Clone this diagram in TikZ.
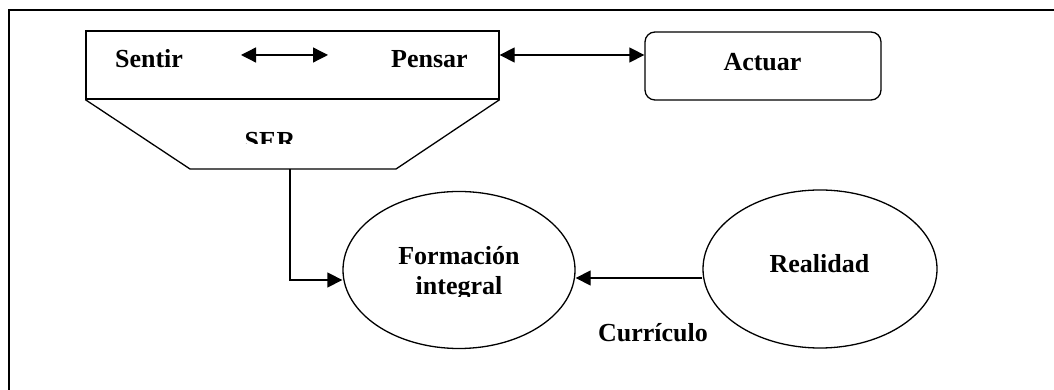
\documentclass[tikz,border=0pt]{standalone}
\usepackage{fontspec}
\setmainfont{Liberation Serif}
\usetikzlibrary{arrows.meta,shapes.geometric}
\tikzset{
  txt/.style={font=\fontsize{26}{30}\selectfont\bfseries, inner sep=0pt},
  shp/.style={draw, line width=1.3pt},
  conn/.style={line width=1.3pt, -{Triangle[length=15pt,width=15pt]}},
  dconn/.style={line width=1.3pt, {Triangle[length=15pt,width=15pt]}-{Triangle[length=15pt,width=15pt]}},
}
\begin{document}
\begin{tikzpicture}[x=1pt,y=1pt]
\useasboundingbox (0,0) rectangle (1054,390);
% frame
\draw[line width=2.6pt] (9,0) -- (9,380) -- (1054,380);
% top box
\node[shp, minimum width=413pt, minimum height=68pt, inner sep=0pt] (top) at (292.5,325) {};
\node[txt, anchor=base] (sentir) at (149,322) {Sentir};
\node[txt, anchor=base] (pensar) at (429.5,322) {Pensar};
\coordinate (sa) at (241,335);
\coordinate (sb) at (328,335);
\draw[dconn] (sa) -- (sb);
% trapezoid
\coordinate (t1) at (top.south west);
\coordinate (t2) at (top.south east);
\coordinate (t3) at (396,221);
\coordinate (t4) at (190,221);
\draw[shp, line join=miter] (t1) -- (t3 -| t4) -- (t3) -- (t2);
\begin{scope}
  \clip (200,246) rectangle (340,285);
  \node[txt, anchor=base] (ser) at (270,240) {SER};
\end{scope}
% Actuar
\node[shp, rounded corners=10pt, minimum width=236pt, minimum height=68pt, inner sep=0pt] (actuar) at (763,324) {};
\node[txt, anchor=base] (actuartxt) at (762.5,319) {Actuar};
\draw[dconn] (top.east |- sa) -- (actuar.west |- sa);
% ellipses
\node[shp, ellipse, minimum width=232pt, minimum height=157pt, inner sep=0pt] (form) at (459,120) {};
\begin{scope}
  \clip (370,93) rectangle (550,160);
  \node[txt, align=center] (formtxt) at (459,116.6) {Formación\\integral};
\end{scope}
\node[shp, ellipse, minimum width=234pt, minimum height=158pt, inner sep=0pt] (real) at (820,121) {};
\node[txt, anchor=base] (realtxt) at (819.5,117) {Realidad};
\node[txt, anchor=base] (curr) at (653,48) {Currículo};
% connectors
\coordinate (serb) at (290,221);
\draw[conn] (serb) |- ([yshift=-10pt]form.west);
\draw[conn] ([yshift=-9pt]real.west) -- ([yshift=-9pt]real.west -| form.east);
\end{tikzpicture}
\end{document}
